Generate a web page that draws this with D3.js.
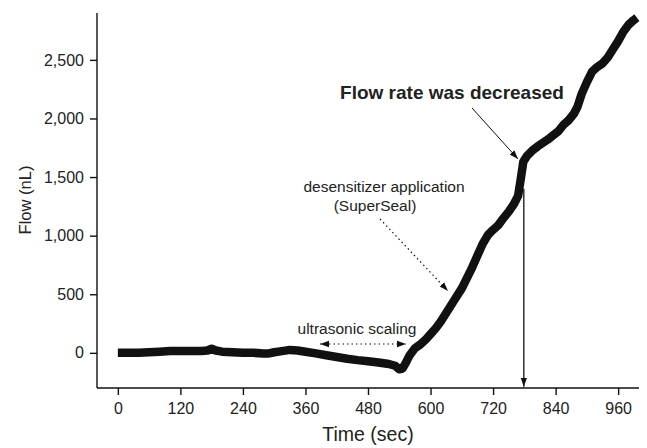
<!DOCTYPE html>
<html><head><meta charset="utf-8">
<script src="https://cdn.jsdelivr.net/npm/d3@7"></script>
<style>body{margin:0;background:#fff}svg{display:block}text{font-family:"Liberation Sans",Arial,sans-serif;fill:#222}</style>
</head><body><svg id="c" width="647" height="448"></svg>
<script>
const times = [0,20,40,60,80,100,120,140,160,172,180,188,200,220,240,260,280,290,300,315,330,345,360,380,400,420,440,460,480,500,520,532,540,546,552,560,570,580,590,600,610,620,630,640,650,660,670,680,690,700,710,720,730,740,750,760,768,773,778,785,795,805,815,825,835,845,855,865,875,882,890,900,910,920,930,940,950,960,970,980,990,996];
const flow  = [0,0,0,5,10,15,15,15,15,20,35,20,10,5,0,0,-5,-5,5,15,25,20,10,-5,-20,-35,-50,-62,-72,-82,-95,-110,-140,-135,-90,-20,40,70,110,160,210,270,340,410,480,550,640,730,830,930,1005,1050,1090,1150,1205,1270,1340,1480,1630,1680,1725,1760,1790,1820,1855,1890,1945,1985,2040,2100,2210,2310,2400,2440,2470,2520,2590,2660,2740,2800,2840,2860];
const xTicks = [0,120,240,360,480,600,720,840,960];
const yTicks = [0,500,1000,1500,2000,2500];
const xDomain = [-40,1000], yDomain = [-300,2900];

const svg = d3.select("#c");
const m = {l:97,t:13,r:8,b:60};
const W = 647, H = 448;
const x = d3.scaleLinear().domain(xDomain).range([m.l, W-m.r]);
const y = d3.scaleLinear().domain(yDomain).range([H-m.b, m.t]);

const defs = svg.append("defs");
function marker(id, size){
  defs.append("marker").attr("id",id).attr("viewBox","0 0 10 10").attr("refX",10).attr("refY",5)
    .attr("markerWidth",size).attr("markerHeight",size).attr("markerUnits","userSpaceOnUse").attr("orient","auto-start-reverse")
    .append("path").attr("d","M0,1.5L10,5L0,8.5Z").attr("fill","#111");
}
marker("ah",9);

// axes
const xMinor = d3.range(-40,1001,20);
const yMinor = d3.range(-300,2901,100);
const gx = svg.append("g").attr("transform",`translate(0,${H-m.b})`);
gx.call(d3.axisBottom(x).tickValues(xMinor).tickSize(4).tickFormat("")).call(g=>g.select(".domain").remove());
gx.call(d3.axisBottom(x).tickValues(xTicks).tickSize(7).tickPadding(8).tickFormat(d3.format("d")));
gx.selectAll("line,path").attr("stroke","#111").attr("stroke-width",1.4);
gx.selectAll("text").attr("font-size",16).style("fill","#222");
gx.select(".domain").attr("d",`M${x.range()[0]},0H${x.range()[1]}`);

const gy = svg.append("g").attr("transform",`translate(${m.l},0)`);
gy.call(d3.axisLeft(y).tickValues(yMinor).tickSize(4).tickFormat("")).call(g=>g.select(".domain").remove());
gy.call(d3.axisLeft(y).tickValues(yTicks).tickSize(7).tickPadding(6).tickFormat(d3.format(",")));
gy.selectAll("line,path").attr("stroke","#111").attr("stroke-width",1.4);
gy.selectAll("text").attr("font-size",16).style("fill","#222");
gy.select(".domain").attr("d",`M0,${y.range()[0]}V${y.range()[1]}`);

svg.append("text").attr("x",(m.l+W-m.r)/2).attr("y",441).attr("text-anchor","middle").attr("font-size",19.5).text("Time (sec)");
svg.append("text").attr("transform",`translate(31,200) rotate(-90)`).attr("text-anchor","middle").attr("font-size",16.5).text("Flow (nL)");

// vertical arrow at flow-rate change
svg.append("line").attr("x1",x(779)).attr("x2",x(779)).attr("y1",y(1400)).attr("y2",y(-290))
  .attr("stroke","#111").attr("stroke-width",1.3).attr("marker-end","url(#ah)");

// data line
const pts = times.map((t,i)=>[t,flow[i]]);
svg.append("path").datum(pts).attr("fill","none").attr("stroke","#111").attr("stroke-width",8.5)
  .attr("stroke-linejoin","round").attr("stroke-linecap","butt")
  .attr("d",d3.line().x(d=>x(d[0])).y(d=>y(d[1])));

// annotations
svg.append("text").attr("x",452).attr("y",99).attr("text-anchor","middle").attr("font-size",19).attr("font-weight","bold").text("Flow rate was decreased");
svg.append("line").attr("x1",472).attr("y1",108).attr("x2",518).attr("y2",159).attr("stroke","#111").attr("stroke-width",1).attr("marker-end","url(#ah)");

svg.append("text").attr("x",384).attr("y",192).attr("text-anchor","middle").attr("font-size",15.5).text("desensitizer application");
svg.append("text").attr("x",375).attr("y",211).attr("text-anchor","middle").attr("font-size",15.5).text("(SuperSeal)");
svg.append("line").attr("x1",380).attr("y1",219).attr("x2",448).attr("y2",291).attr("stroke","#111").attr("stroke-width",1.2).attr("stroke-dasharray","1.5,3").attr("marker-end","url(#ah)");

svg.append("text").attr("x",357).attr("y",334).attr("text-anchor","middle").attr("font-size",15.5).text("ultrasonic scaling");
svg.append("line").attr("x1",320).attr("y1",344).attr("x2",406).attr("y2",344).attr("stroke","#111").attr("stroke-width",1.2).attr("stroke-dasharray","1.5,3")
  .attr("marker-start","url(#ah)").attr("marker-end","url(#ah)");
</script></body></html>
